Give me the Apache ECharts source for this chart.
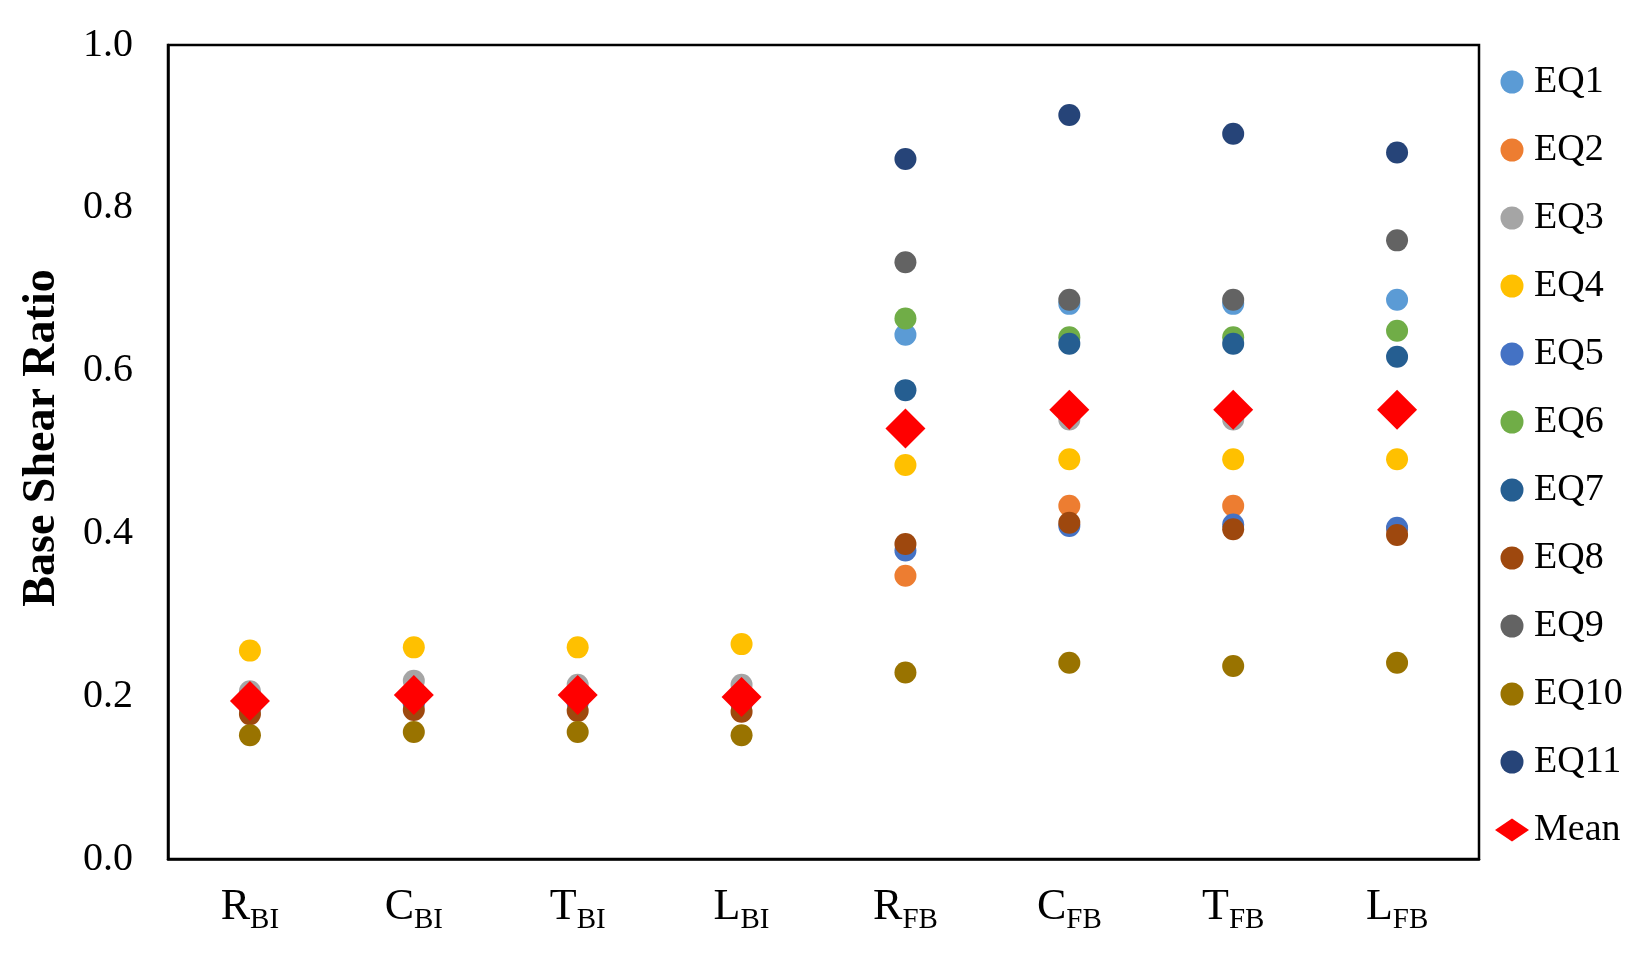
<!DOCTYPE html>
<html>
<head>
<meta charset="utf-8">
<script src="https://cdn.jsdelivr.net/npm/echarts@6/dist/echarts.min.js"></script>
<style>
  html, body { margin: 0; padding: 0; background: #fff; }
  #chart { width: 1647px; height: 975px; }
</style>
</head>
<body>
<div id="chart"></div>
<script>
// categories: main letter + subscript
let catMain = ['R', 'C', 'T', 'L', 'R', 'C', 'T', 'L'];
let catSub = ['BI', 'BI', 'BI', 'BI', 'FB', 'FB', 'FB', 'FB'];
let categories = catMain.map(function (m, i) { return m + catSub[i]; });

let seriesNames = ['EQ1', 'EQ2', 'EQ3', 'EQ4', 'EQ5', 'EQ6', 'EQ7', 'EQ8', 'EQ9', 'EQ10', 'EQ11'];
let seriesColors = ['#5B9BD5', '#ED7D31', '#A5A5A5', '#FFC000', '#4472C4', '#70AD47',
                    '#255E91', '#9E480E', '#636363', '#997300', '#264478'];

// values (RBI, CBI, TBI, LBI, RFB, CFB, TFB, LFB)
let eq1 = [0.200, 0.205, 0.205, 0.203, 0.644, 0.682, 0.682, 0.687];
let eq2 = [0.190, 0.200, 0.200, 0.198, 0.348, 0.434, 0.434, 0.405];
let eq3 = [0.206, 0.219, 0.214, 0.214, 0.530, 0.540, 0.540, 0.548];
let eq4 = [0.256, 0.260, 0.260, 0.264, 0.484, 0.491, 0.491, 0.491];
let eq5 = [0.185, 0.190, 0.192, 0.190, 0.379, 0.409, 0.411, 0.407];
let eq6 = [0.190, 0.198, 0.200, 0.195, 0.664, 0.641, 0.641, 0.649];
let eq7 = [0.190, 0.195, 0.198, 0.193, 0.576, 0.633, 0.633, 0.617];
let eq8 = [0.178, 0.183, 0.182, 0.181, 0.387, 0.413, 0.405, 0.398];
let eq9 = [0.194, 0.201, 0.201, 0.199, 0.733, 0.687, 0.687, 0.760];
let eq10 = [0.152, 0.156, 0.156, 0.152, 0.229, 0.241, 0.237, 0.241];
let eq11 = [0.194, 0.201, 0.201, 0.199, 0.860, 0.914, 0.891, 0.868];
let meanValues = [0.194, 0.2015, 0.2015, 0.199, 0.529, 0.552, 0.552, 0.552];

let eqData = [eq1, eq2, eq3, eq4, eq5, eq6, eq7, eq8, eq9, eq10, eq11];

let fontFamily = "'Times New Roman', 'Liberation Serif', serif";

let series = eqData.map(function (d, i) {
    return {
        name: seriesNames[i],
        type: 'scatter',
        symbol: 'circle',
        symbolSize: 22,
        itemStyle: { color: seriesColors[i], opacity: 1 },
        data: d
    };
});
series.push({
    name: 'Mean',
    type: 'scatter',
    symbol: 'diamond',
    symbolSize: 40,
    itemStyle: { color: '#FF0000', opacity: 1 },
    data: meanValues
});

let chart = echarts.init(document.getElementById('chart'));
chart.setOption({
    animation: false,
    backgroundColor: '#fff',
    grid: {
        left: 168,
        right: 168,
        top: 45,
        bottom: 116,
        show: true,
        borderColor: '#000',
        borderWidth: 2.5,
        backgroundColor: 'transparent'
    },
    legend: {
        orient: 'vertical',
        left: 1490,
        top: 58,
        itemWidth: 34,
        itemHeight: 23,
        itemGap: 30,
        textStyle: {
            fontFamily: fontFamily,
            fontSize: 38,
            lineHeight: 36,
            color: '#000'
        },
        data: seriesNames.concat(['Mean'])
    },
    xAxis: {
        type: 'category',
        data: categories,
        boundaryGap: true,
        axisLine: { show: true, lineStyle: { color: '#000', width: 2.5 } },
        axisTick: { show: false },
        splitLine: { show: false },
        axisLabel: {
            margin: 21,
            formatter: function (value, idx) {
                return '{m|' + catMain[idx] + '}{s|' + catSub[idx] + '}';
            },
            rich: {
                m: { fontFamily: fontFamily, fontSize: 44, lineHeight: 54, color: '#000' },
                s: { fontFamily: fontFamily, fontSize: 29, lineHeight: 28, padding: [26, 0, 0, 0], color: '#000' }
            }
        }
    },
    yAxis: {
        type: 'value',
        min: 0,
        max: 1,
        interval: 0.2,
        name: 'Base Shear Ratio',
        nameLocation: 'middle',
        nameRotate: 90,
        nameGap: 103,
        nameTextStyle: {
            fontFamily: fontFamily,
            fontSize: 46,
            fontWeight: 'bold',
            color: '#000',
            padding: [0, 0, 0, 28]
        },
        axisLine: { show: true, lineStyle: { color: '#000', width: 2.5 } },
        axisTick: { show: false },
        splitLine: { show: false },
        axisLabel: {
            margin: 35,
            fontFamily: fontFamily,
            fontSize: 40,
            color: '#000',
            padding: [24, 0, 0, 0],
            formatter: function (v) { return v.toFixed(1); }
        }
    },
    series: series
});
</script>
</body>
</html>
